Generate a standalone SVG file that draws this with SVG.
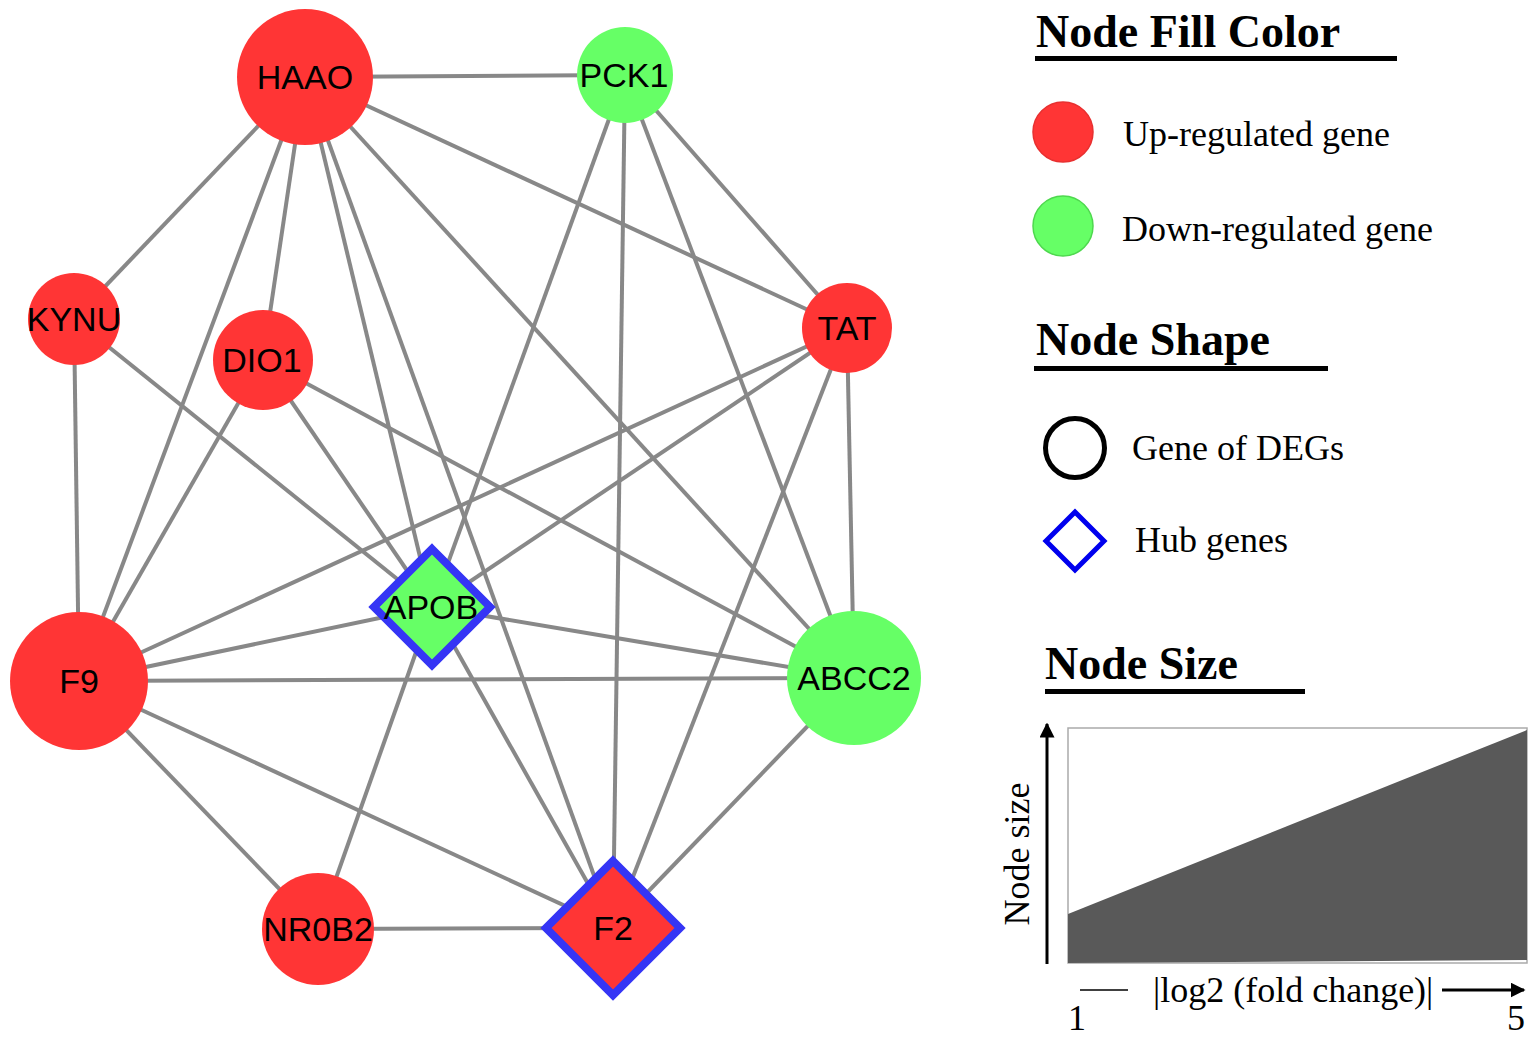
<svg xmlns="http://www.w3.org/2000/svg" width="1536" height="1039" viewBox="0 0 1536 1039">
<style>
.e{stroke:#888888;stroke-width:4;fill:none}
.up{fill:#FF3535}
.dn{fill:#66FF66}
.hub{stroke:#3535F5;stroke-width:8;stroke-linejoin:miter}
.lb{font-family:"Liberation Sans",Arial,sans-serif;font-size:34px;fill:#000;text-anchor:middle}
.h{font-family:"Liberation Serif","Times New Roman",serif;font-size:46px;font-weight:bold;fill:#000}
.t{font-family:"Liberation Serif","Times New Roman",serif;font-size:36px;fill:#000}
</style>
<defs>
<marker id="ah" viewBox="0 0 10 10" refX="9" refY="5" markerWidth="5" markerHeight="5" orient="auto" markerUnits="strokeWidth">
<path d="M0,0 L10,5 L0,10 z" fill="#000"/>
</marker>
</defs>
<rect width="1536" height="1039" fill="#fff"/>
<g id="edges">
<line class="e" x1="305" y1="77" x2="625" y2="75"/>
<line class="e" x1="305" y1="77" x2="74" y2="319"/>
<line class="e" x1="305" y1="77" x2="79" y2="681"/>
<line class="e" x1="305" y1="77" x2="263" y2="360"/>
<line class="e" x1="305" y1="77" x2="432" y2="607"/>
<line class="e" x1="305" y1="77" x2="613" y2="928"/>
<line class="e" x1="305" y1="77" x2="854" y2="678"/>
<line class="e" x1="305" y1="77" x2="847" y2="328"/>
<line class="e" x1="625" y1="75" x2="432" y2="607"/>
<line class="e" x1="625" y1="75" x2="613" y2="928"/>
<line class="e" x1="625" y1="75" x2="854" y2="678"/>
<line class="e" x1="625" y1="75" x2="847" y2="328"/>
<line class="e" x1="74" y1="319" x2="79" y2="681"/>
<line class="e" x1="74" y1="319" x2="432" y2="607"/>
<line class="e" x1="263" y1="360" x2="79" y2="681"/>
<line class="e" x1="263" y1="360" x2="432" y2="607"/>
<line class="e" x1="263" y1="360" x2="854" y2="678"/>
<line class="e" x1="847" y1="328" x2="79" y2="681"/>
<line class="e" x1="847" y1="328" x2="432" y2="607"/>
<line class="e" x1="847" y1="328" x2="613" y2="928"/>
<line class="e" x1="847" y1="328" x2="854" y2="678"/>
<line class="e" x1="79" y1="681" x2="432" y2="607"/>
<line class="e" x1="79" y1="681" x2="854" y2="678"/>
<line class="e" x1="79" y1="681" x2="318" y2="929"/>
<line class="e" x1="79" y1="681" x2="613" y2="928"/>
<line class="e" x1="432" y1="607" x2="854" y2="678"/>
<line class="e" x1="432" y1="607" x2="318" y2="929"/>
<line class="e" x1="432" y1="607" x2="613" y2="928"/>
<line class="e" x1="854" y1="678" x2="613" y2="928"/>
<line class="e" x1="318" y1="929" x2="613" y2="928"/>
</g>
<g id="node-HAAO"><circle class="up" cx="305" cy="77" r="68"/><text class="lb" x="305" y="89">HAAO</text></g>
<g id="node-PCK1"><circle class="dn" cx="625" cy="75" r="48"/><text class="lb" x="624" y="87">PCK1</text></g>
<g id="node-KYNU"><circle class="up" cx="74" cy="319" r="46"/><text class="lb" x="74" y="331">KYNU</text></g>
<g id="node-DIO1"><circle class="up" cx="263" cy="360" r="50"/><text class="lb" x="262" y="372">DIO1</text></g>
<g id="node-TAT"><circle class="up" cx="847" cy="328" r="45"/><text class="lb" x="847" y="340">TAT</text></g>
<g id="node-F9"><circle class="up" cx="79" cy="681" r="69"/><text class="lb" x="79" y="693">F9</text></g>
<g id="node-ABCC2"><circle class="dn" cx="854" cy="678" r="67"/><text class="lb" x="854" y="690">ABCC2</text></g>
<g id="node-NR0B2"><circle class="up" cx="318" cy="929" r="56"/><text class="lb" x="318" y="941">NR0B2</text></g>
<g id="node-APOB"><path class="dn hub" d="M432,549 L490,607 L432,665 L374,607 Z"/><text class="lb" x="431" y="619">APOB</text></g>
<g id="node-F2"><path class="up hub" d="M613,861 L680,928 L613,995 L546,928 Z"/><text class="lb" x="613" y="940">F2</text></g>
<g id="legend">
<text class="h" x="1036" y="47">Node Fill Color</text>
<rect x="1035" y="56" width="362" height="5" fill="#000"/>
<circle cx="1063" cy="132" r="30" fill="#FF3535" stroke="#E83030" stroke-width="1.5"/>
<text class="t" x="1123" y="146">Up-regulated gene</text>
<circle cx="1063" cy="226" r="30" fill="#66FF66" stroke="#4ED84E" stroke-width="1.5"/>
<text class="t" x="1122" y="241">Down-regulated gene</text>
<text class="h" x="1036" y="355">Node Shape</text>
<rect x="1034" y="366" width="294" height="5" fill="#000"/>
<circle cx="1075" cy="448" r="29.5" fill="none" stroke="#000" stroke-width="5"/>
<text class="t" x="1132" y="460">Gene of DEGs</text>
<path d="M1075,512 L1104,541 L1075,570 L1046,541 Z" fill="none" stroke="#0000EE" stroke-width="5"/>
<text class="t" x="1135" y="552">Hub genes</text>
<text class="h" x="1045" y="679">Node Size</text>
<rect x="1045" y="689" width="260" height="5" fill="#000"/>
<rect x="1068" y="728" width="459" height="235" fill="#fff" stroke="#AAAAAA" stroke-width="1.5"/>
<path d="M1068,914 L1527,730 L1527,960 L1068,963 Z" fill="#595959"/>
<line x1="1047" y1="964" x2="1047" y2="724" stroke="#000" stroke-width="3" marker-end="url(#ah)"/>
<text class="t" transform="translate(1029,854) rotate(-90)" text-anchor="middle">Node size</text>
<line x1="1080" y1="990" x2="1128" y2="990" stroke="#000" stroke-width="1.5"/>
<text class="t" x="1153" y="1002">|log2 (fold change)|</text>
<line x1="1442" y1="990" x2="1524" y2="990" stroke="#000" stroke-width="3" marker-end="url(#ah)"/>
<text class="t" x="1077" y="1030" text-anchor="middle">1</text>
<text class="t" x="1516" y="1030" text-anchor="middle">5</text>
</g>
</svg>
